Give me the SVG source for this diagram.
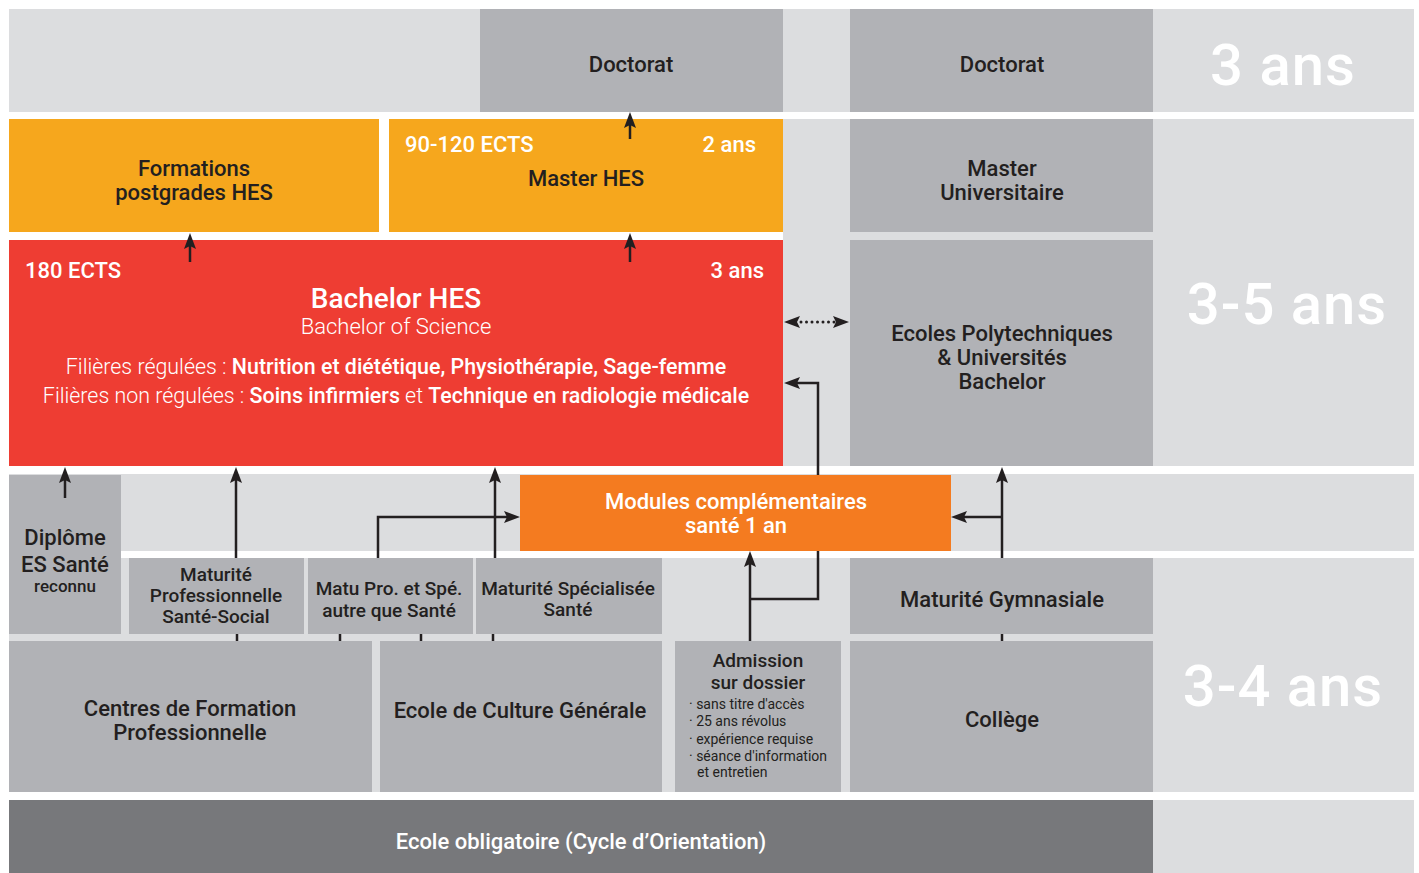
<svg xmlns="http://www.w3.org/2000/svg" width="1419" height="873" viewBox="0 0 1419 873">
<style>
.bg{fill:#dcdddf}
.g{fill:#b1b2b6}
.dk{fill:#77787b}
.or{fill:#f6a71d}
.rd{fill:#ee3d33}
.mo{fill:#f47b20}
text{font-family:Roboto,"Liberation Sans",Arial,sans-serif;text-anchor:middle;font-weight:500;fill:#231f20}
.f22{font-size:22px}
.f19{font-size:19px}
.w{fill:#fff}
.big{font-size:58px;fill:#fff;font-weight:500;letter-spacing:1px}
.lt{font-weight:300}
.c{stroke:#231f20;stroke-width:2.5;fill:none}
.dot{stroke:#231f20;stroke-width:3;stroke-linecap:round;stroke-dasharray:0 5.5;fill:none}
</style>
<defs>
<marker id="ah" viewBox="0 0 16 12" markerWidth="16" markerHeight="12" refX="10" refY="6" orient="auto-start-reverse" markerUnits="userSpaceOnUse">
<path d="M0,0 L16,6 L0,12 L3,6 Z" fill="#231f20"/>
</marker>
</defs>
<rect width="1419" height="873" fill="#fff"/>
<g id="bands">
<rect class="bg" x="9" y="9" width="1405" height="103"/>
<rect class="bg" x="783" y="119" width="631" height="347"/>
<rect class="bg" x="9" y="474" width="1405" height="77"/>
<rect class="bg" x="9" y="558" width="1405" height="234"/>
<rect class="bg" x="1153" y="800" width="261" height="73"/>
</g>
<g id="duration">
<text class="big" x="1283" y="85">3 ans</text>
<text class="big" x="1287" y="324">3-5 ans</text>
<text class="big" x="1283" y="706">3-4 ans</text>
</g>
<g id="doctorat-hes"><rect class="g" x="480" y="9" width="303" height="103"/><text class="f22" x="631" y="72">Doctorat</text></g>
<g id="doctorat-uni"><rect class="g" x="850" y="9" width="303" height="103"/><text class="f22" x="1002" y="72">Doctorat</text></g>
<g id="postgrades"><rect class="or" x="9" y="119" width="370" height="113"/><text class="f22" x="194" y="176">Formations</text><text class="f22" x="194" y="200">postgrades HES</text></g>
<g id="master-hes"><rect class="or" x="389" y="119" width="394" height="113"/><text class="f22 w" x="405" y="152" style="text-anchor:start">90-120 ECTS</text><text class="f22 w" x="756" y="152" style="text-anchor:end">2 ans</text><text class="f22" x="586" y="186">Master HES</text></g>
<g id="master-uni"><rect class="g" x="850" y="119" width="303" height="113"/><text class="f22" x="1002" y="176">Master</text><text class="f22" x="1002" y="200">Universitaire</text></g>
<g id="bachelor-hes"><rect class="rd" x="9" y="240" width="774" height="226"/>
<text class="f22 w" x="25" y="278" style="text-anchor:start">180 ECTS</text>
<text class="f22 w" x="764" y="278" style="text-anchor:end">3 ans</text>
<text class="w" x="396" y="308" style="font-size:28px">Bachelor HES</text>
<text class="w lt" x="396" y="334" style="font-size:22px">Bachelor of Science</text>
<text class="w" x="396" y="374" style="font-size:21.4px"><tspan class="w lt">Filières régulées : </tspan>Nutrition et diététique, Physiothérapie, Sage-femme</text>
<text class="w" x="396" y="403" style="font-size:21.4px"><tspan class="w lt">Filières non régulées : </tspan>Soins infirmiers<tspan class="w lt"> et </tspan>Technique en radiologie médicale</text>
</g>
<g id="ecoles-poly"><rect class="g" x="850" y="240" width="303" height="226"/><text class="f22" x="1002" y="341">Ecoles Polytechniques</text><text class="f22" x="1002" y="365">&amp; Universités</text><text class="f22" x="1002" y="389">Bachelor</text></g>
<g id="modules"><rect class="mo" x="520" y="475" width="431" height="76"/><text class="f22 w" x="736" y="509">Modules complémentaires</text><text class="f22 w" x="736" y="533">santé 1 an</text></g>
<g id="diplome-es"><rect class="g" x="9" y="475" width="112" height="159"/><text class="f22" x="65" y="545">Diplôme</text><text class="f22" x="65" y="572">ES Santé</text><text x="65" y="592" style="font-size:17px">reconnu</text></g>
<g id="matu-pro"><rect class="g" x="129" y="558" width="175" height="76"/><text class="f19" x="216" y="581">Maturité</text><text class="f19" x="216" y="602">Professionnelle</text><text class="f19" x="216" y="623">Santé-Social</text></g>
<g id="matu-pro-spe"><rect class="g" x="308" y="558" width="165" height="76"/><text class="f19" x="389" y="595">Matu Pro. et Spé.</text><text class="f19" x="389" y="617">autre que Santé</text></g>
<g id="matu-spe"><rect class="g" x="476" y="558" width="186" height="76"/><text class="f19" x="568" y="595">Maturité Spécialisée</text><text class="f19" x="568" y="616">Santé</text></g>
<g id="matu-gym"><rect class="g" x="850" y="558" width="303" height="76"/><text class="f22" x="1002" y="607">Maturité Gymnasiale</text></g>
<g id="cfp"><rect class="g" x="9" y="641" width="363" height="151"/><text class="f22" x="190" y="716">Centres de Formation</text><text class="f22" x="190" y="740">Professionnelle</text></g>
<g id="ecg"><rect class="g" x="380" y="641" width="282" height="151"/><text class="f22" x="520" y="718">Ecole de Culture Générale</text></g>
<g id="admission"><rect class="g" x="675" y="641" width="166" height="151"/>
<text class="f19" x="758" y="667">Admission</text><text class="f19" x="758" y="689">sur dossier</text>
<g style="font-size:14px">
<text x="689" y="709" style="text-anchor:start;font-weight:400">· sans titre d'accès</text>
<text x="689" y="726" style="text-anchor:start;font-weight:400">· 25 ans révolus</text>
<text x="689" y="744" style="text-anchor:start;font-weight:400">· expérience requise</text>
<text x="689" y="761" style="text-anchor:start;font-weight:400">· séance d'information</text>
<text x="697" y="777" style="text-anchor:start;font-weight:400">et entretien</text>
</g></g>
<g id="college"><rect class="g" x="850" y="641" width="303" height="151"/><text class="f22" x="1002" y="727">Collège</text></g>
<g id="ecole-obligatoire"><rect class="dk" x="9" y="800" width="1144" height="73"/><text class="f22 w" x="581" y="849">Ecole obligatoire (Cycle d’Orientation)</text></g>
<g id="connectors">
<path class="c" d="M630,139 V118" marker-end="url(#ah)"/>
<path class="c" d="M190,262 V239" marker-end="url(#ah)"/>
<path class="c" d="M630,262 V239" marker-end="url(#ah)"/>
<path class="c" d="M65,498 V473" marker-end="url(#ah)"/>
<path class="c" d="M236,558 V473" marker-end="url(#ah)"/>
<path class="c" d="M495,558 V473" marker-end="url(#ah)"/>
<path class="c" d="M378,558 V517 H514" marker-end="url(#ah)"/>
<path class="c" d="M750,641 V557" marker-end="url(#ah)"/>
<path class="c" d="M750,599 H818 V551"/>
<path class="c" d="M818,475 V383 H790" marker-end="url(#ah)"/>
<path class="c" d="M1002,558 V473" marker-end="url(#ah)"/>
<path class="c" d="M1002,517 H957" marker-end="url(#ah)"/>
<path class="dot" d="M790,322 H843" marker-start="url(#ah)" marker-end="url(#ah)"/>
<path class="c" d="M237,634 V641 M340,634 V641 M421,634 V641 M493,634 V641 M1002,634 V641"/>
</g>
</svg>
